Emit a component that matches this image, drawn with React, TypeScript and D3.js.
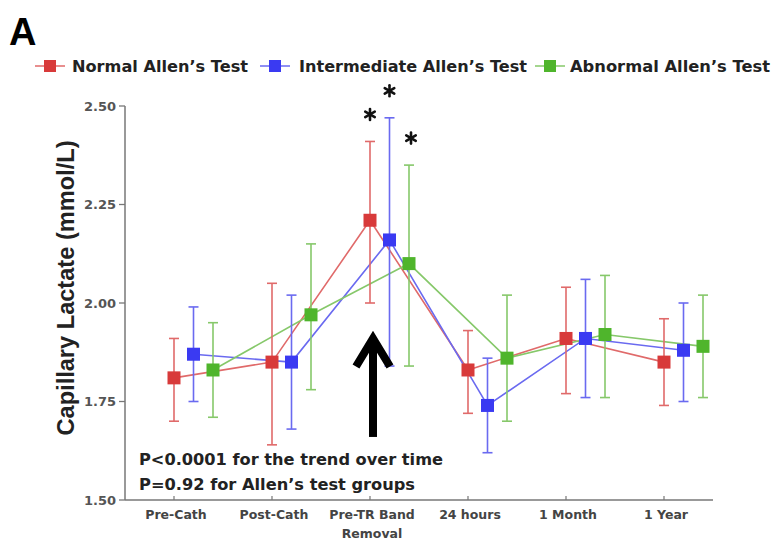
import React from "react";
import * as d3 from "d3";

const categories = ["Pre-Cath", "Post-Cath", "Pre-TR Band Removal", "24 hours", "1 Month", "1 Year"];
const categoryLines = [["Pre-Cath"], ["Post-Cath"], ["Pre-TR Band", "Removal"], ["24 hours"], ["1 Month"], ["1 Year"]];

const normalMean = [1.81, 1.85, 2.21, 1.83, 1.91, 1.85];
const normalLow = [1.70, 1.64, 2.00, 1.72, 1.77, 1.74];
const normalHigh = [1.91, 2.05, 2.41, 1.93, 2.04, 1.96];

const intermediateMean = [1.87, 1.85, 2.16, 1.74, 1.91, 1.88];
const intermediateLow = [1.75, 1.68, 1.84, 1.62, 1.76, 1.75];
const intermediateHigh = [1.99, 2.02, 2.47, 1.86, 2.06, 2.00];

const abnormalMean = [1.83, 1.97, 2.10, 1.86, 1.92, 1.89];
const abnormalLow = [1.71, 1.78, 1.84, 1.70, 1.76, 1.76];
const abnormalHigh = [1.95, 2.15, 2.35, 2.02, 2.07, 2.02];

const seriesNames = ["Normal Allen\u2019s Test", "Intermediate Allen\u2019s Test", "Abnormal Allen\u2019s Test"];
const seriesColors = ["#d83a3a", "#3a3af2", "#4fb52c"];
const seriesLineColors = ["#e06a6a", "#6a6af0", "#86c86a"];
const significant = [[false, false, true, false, false, false], [false, false, true, false, false, false], [false, false, true, false, false, false]];

const yTicks = [1.5, 1.75, 2.0, 2.25, 2.5];
const annotationLines = ["P<0.0001 for the trend over time", "P=0.92 for Allen\u2019s test groups"];

const W = 773;
const H = 543;

export default function App() {
  const x = d3.scalePoint<string>().domain(categories).range([174, 664]);
  const y = d3.scaleLinear().domain([1.5, 2.5]).range([500, 106]);
  const offsets = [0, 19.5, 39];
  const fmt = d3.format(".2f");

  const series = [
    { name: seriesNames[0], mean: normalMean, low: normalLow, high: normalHigh },
    { name: seriesNames[1], mean: intermediateMean, low: intermediateLow, high: intermediateHigh },
    { name: seriesNames[2], mean: abnormalMean, low: abnormalLow, high: abnormalHigh },
  ];

  const line = d3.line<[number, number]>().x((d) => d[0]).y((d) => d[1]);

  const legendX = [[35, 65, 72, 176], [260, 290, 299, 228], [535, 565, 570, 200]];
  const legendY = 66;

  const arrowX = (x(categories[2]) as number) + 3;
  const arrowTip = y(1.92);
  const arrowTail = y(1.66);

  const star = (cx: number, cy: number, key: string) => {
    const r = 5.5;
    return (
      <g key={key} stroke="#111" strokeWidth={2.6} strokeLinecap="round">
        {[90, 30, -30].map((a) => {
          const rad = (a * Math.PI) / 180;
          return (
            <line key={a} x1={cx - r * Math.cos(rad)} y1={cy - r * Math.sin(rad)} x2={cx + r * Math.cos(rad)} y2={cy + r * Math.sin(rad)} />
          );
        })}
      </g>
    );
  };

  return (
    <svg width={W} height={H} style={{ position: "absolute", left: 0, top: 0, background: "#fff" }} fontFamily="DejaVu Sans" >
      <rect x={0} y={0} width={W} height={H} fill="#fff" />
      {/* Panel letter */}
      <text x={9} y={45} fontFamily="Liberation Sans" fontWeight="bold" fontSize={38} fill="#000">A</text>

      {/* Legend */}
      {series.map((s, i) => (
        <g key={s.name}>
          <line x1={legendX[i][0]} x2={legendX[i][1]} y1={legendY} y2={legendY} stroke={seriesLineColors[i]} strokeWidth={1.5} />
          <rect x={(legendX[i][0] + legendX[i][1]) / 2 - 6} y={legendY - 6} width={12} height={12} fill={seriesColors[i]} />
          <text x={legendX[i][2]} y={legendY + 6} fontSize={16} fontWeight="bold" fill="#222" textLength={legendX[i][3]} lengthAdjust="spacingAndGlyphs">{s.name}</text>
        </g>
      ))}

      {/* Y axis */}
      <line x1={125} x2={125} y1={y(2.5)} y2={y(1.5)} stroke="#777" strokeWidth={1.5} />
      {yTicks.map((t) => (
        <g key={t}>
          <line x1={119} x2={125} y1={y(t)} y2={y(t)} stroke="#777" strokeWidth={1.3} />
          <text x={116} y={y(t)} dy="0.36em" textAnchor="end" fontSize={13} fontWeight="bold" fill="#555">{fmt(t)}</text>
        </g>
      ))}
      <text transform={`translate(74,288) rotate(-90)`} textAnchor="middle" fontFamily="Liberation Sans" fontWeight="bold" fontSize={23} fill="#222" textLength={295} lengthAdjust="spacingAndGlyphs">Capillary Lactate (mmol/L)</text>

      {/* X axis */}
      <line x1={125} x2={713} y1={y(1.5)} y2={y(1.5)} stroke="#777" strokeWidth={1.5} />
      {categories.map((c, i) => (
        <g key={c}>
          <line x1={x(c)} x2={x(c)} y1={y(1.5)} y2={y(1.5) - 4} stroke="#777" strokeWidth={1.2} />
          <text x={(x(c) as number) + 2} y={519} textAnchor="middle" fontSize={12.5} fontWeight="bold" fill="#444">
            {categoryLines[i].map((l, j) => (
              <tspan key={j} x={(x(c) as number) + 2} dy={j === 0 ? 0 : 19}>{l}</tspan>
            ))}
          </text>
        </g>
      ))}

      {/* Connecting lines */}
      {series.map((s, i) => (
        <path key={"l" + i} d={line(categories.map((c, k) => [(x(c) as number) + offsets[i], y(s.mean[k])])) || ""} fill="none" stroke={seriesLineColors[i]} strokeWidth={1.6} />
      ))}

      {/* Error bars */}
      {series.map((s, i) => (
        <g key={"e" + i} stroke={seriesLineColors[i]} strokeWidth={1.6}>
          {categories.map((c, k) => {
            const cx = (x(c) as number) + offsets[i];
            return (
              <g key={k}>
                <line x1={cx} x2={cx} y1={y(s.low[k])} y2={y(s.high[k])} />
                <line x1={cx - 5} x2={cx + 5} y1={y(s.low[k])} y2={y(s.low[k])} />
                <line x1={cx - 5} x2={cx + 5} y1={y(s.high[k])} y2={y(s.high[k])} />
              </g>
            );
          })}
        </g>
      ))}

      {/* Markers */}
      {series.map((s, i) => (
        <g key={"m" + i} fill={seriesColors[i]}>
          {categories.map((c, k) => {
            const cx = (x(c) as number) + offsets[i];
            return <rect key={k} x={cx - 6.5} y={y(s.mean[k]) - 6.5} width={13} height={13} />;
          })}
        </g>
      ))}

      {/* Significance stars */}
      {series.map((s, i) =>
        categories.map((c, k) =>
          significant[i][k] ? star((x(c) as number) + offsets[i] + (i === 2 ? 2 : 0), y(s.high[k]) - 27, `s${i}${k}`) : null
        )
      )}

      {/* Arrow */}
      <g stroke="#000" strokeWidth={8} fill="none" strokeLinejoin="miter">
        <line x1={arrowX} x2={arrowX} y1={arrowTail} y2={arrowTip + 4} />
        <polyline points={`${arrowX - 17},${arrowTip + 32} ${arrowX},${arrowTip + 4} ${arrowX + 17},${arrowTip + 32}`} />
      </g>

      {/* Annotation */}
      {annotationLines.map((t, i) => (
        <text key={i} x={139} y={465 + i * 25} fontSize={16} fontWeight="bold" fill="#222" textLength={i === 0 ? 304 : 276} lengthAdjust="spacingAndGlyphs">{t}</text>
      ))}
    </svg>
  );
}
